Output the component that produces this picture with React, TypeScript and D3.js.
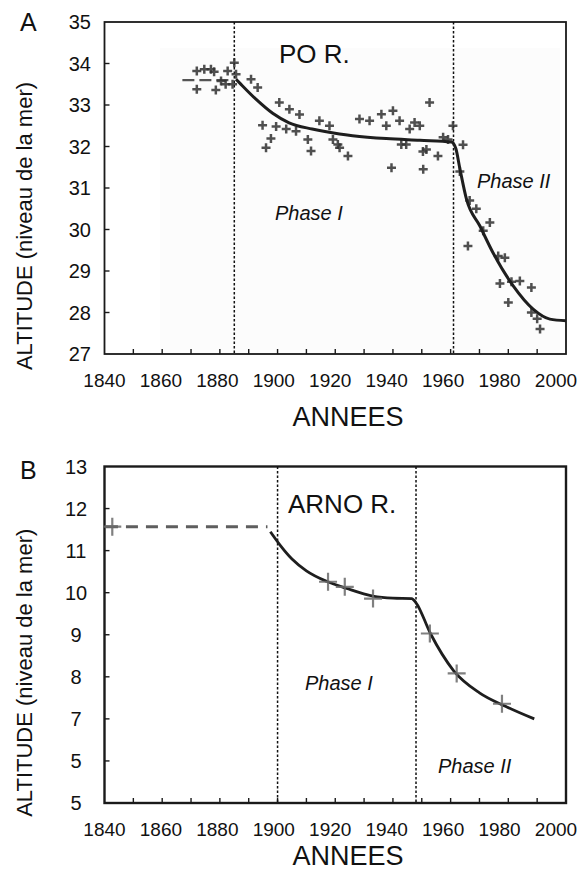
import { useEffect, useRef } from "react";
import * as d3 from "d3";

// axis ticks and labels
const xLabelYears = [1840, 1860, 1880, 1900, 1920, 1940, 1960, 1980, 2000];
const xMinorYears = [1850, 1860, 1870, 1880, 1890, 1900, 1910, 1920, 1930, 1940, 1950, 1960, 1970, 1980, 1990];
const poTicks = [35, 34, 33, 32, 31, 30, 29, 28, 27];
const arnoTicks = [13, 12, 11, 10, 9, 8, 7, 6, 5];
const arnoTickLabels = ["13", "12", "11", "10", "9", "8", "7", "5", "5"];

// phase limits (dotted verticals)
const poPhaseYears = [1885, 1961];
const arnoPhaseYears = [1900, 1948];

// Po river - measured levels
const poObsYear = [
  1872, 1874.6, 1876.9, 1878, 1872, 1878.6, 1880.4, 1882.7, 1882, 1885, 1884.4, 1885.6,
  1890.8, 1893.1, 1900.6, 1904.1, 1894.8, 1899.5, 1903, 1906.4, 1897.7, 1896, 1910.5, 1911.6,
  1914.5, 1918, 1920.9, 1907.6, 1919.2, 1921.5, 1924.4, 1928.4, 1931.9, 1936, 1937.7, 1940,
  1942.3, 1945.8, 1947.5, 1949.3, 1952.7, 1942.9, 1944.6, 1951.6, 1955.6, 1939.5, 1950.5, 1957.4,
  1959.1, 1960.8, 1964.3, 1963.2, 1966.6, 1968.9, 1971.3, 1973.6, 1966, 1976.5, 1978.8, 1977.1,
  1981.1, 1984, 1988, 1980, 1988, 1990, 1991, 1950.4,
];
const poObsAlt = [
  33.82, 33.86, 33.86, 33.8, 33.38, 33.36, 33.58, 33.82, 33.5, 34.02, 33.5, 33.74,
  33.62, 33.42, 33.06, 32.9, 32.51, 32.48, 32.42, 32.37, 32.19, 31.97, 32.17, 31.89,
  32.62, 32.5, 32.05, 32.77, 32.17, 31.97, 31.77, 32.66, 32.62, 32.78, 32.5, 32.86,
  32.62, 32.42, 32.58, 32.5, 33.06, 32.05, 32.05, 31.93, 31.77, 31.49, 31.45, 32.22,
  32.17, 32.5, 32.04, 31.4, 30.7, 30.5, 29.97, 30.17, 29.6, 29.36, 29.32, 28.7,
  28.74, 28.76, 28.6, 28.24, 28.0, 27.85, 27.6, 31.88,
];
// Po river - early level (dashed) and fitted trend
const poEarlyYear = [1867, 1884];
const poEarlyAlt = [33.6, 33.6];
const poTrendYear = [
  1885.6, 1887, 1892.5, 1898.3, 1904, 1912, 1921.5, 1926, 1937.7, 1949.3, 1960.3, 1961.8,
  1963.2, 1965.5, 1970.1, 1974.7, 1981.7, 1988.6, 1994.4, 2000,
];
const poTrendAlt = [
  33.62, 33.52, 33.14, 32.8, 32.57, 32.42, 32.3, 32.26, 32.19, 32.15, 32.11, 31.95,
  31.47, 30.73, 30.09, 29.44, 28.64, 28.08, 27.84, 27.8,
];

// Arno river - measured levels, early level (dashed) and fitted trend
const arnoObsYear = [1842.7, 1917.5, 1923.3, 1933.1, 1952.8, 1962.1, 1977.8];
const arnoObsAlt = [11.57, 10.26, 10.14, 9.86, 9.03, 8.08, 7.36];
const arnoEarlyYear = [1840.5, 1896.5];
const arnoEarlyAlt = [11.57, 11.57];
const arnoTrendYear = [1897.5, 1901, 1905, 1910, 1917, 1924, 1933, 1940, 1946.5, 1948, 1953, 1961, 1970, 1979, 1989];
const arnoTrendAlt = [11.45, 11.12, 10.8, 10.52, 10.27, 10.1, 9.92, 9.87, 9.86, 9.76, 9.03, 8.15, 7.62, 7.3, 7.0];

const FONT = "'Liberation Sans', Arial, sans-serif";

type Panel = {
  letter: string;
  title: string;
  top: number;
  bottom: number;
  yDomain: [number, number];
  yTicks: number[];
  yTickLabels: string[];
  phases: number[];
};

export default function App() {
  const svgRef = useRef<SVGSVGElement>(null);

  useEffect(() => {
    if (!svgRef.current) return;
    const svg = d3.select(svgRef.current);
    svg.selectAll("*").remove();

    const left = 104.5;
    const right = 566;
    const x = d3.scaleLinear().domain([1840, 2000]).range([left, right]);
    // the printed year labels sit a little tighter than the ticks
    const xLab = d3.scaleLinear().domain([1840, 2000]).range([left, right - 10]);

    const defs = svg.append("defs");
    defs.append("filter").attr("id", "soft")
      .append("feGaussianBlur").attr("stdDeviation", 0.6);

    const plus = (size: number) => `M${-size},0H${size}M0,${-size}V${size}`;

    const drawPanel = (p: Panel) => {
      const y = d3.scaleLinear().domain(p.yDomain).range([p.bottom, p.top]);
      const g = svg.append("g");
      const strong = p.letter === "B";

      // frame
      g.append("rect")
        .attr("x", left).attr("y", p.top)
        .attr("width", right - left).attr("height", p.bottom - p.top)
        .attr("fill", "none")
        .attr("stroke", "#1a1a1a")
        .attr("stroke-width", strong ? 2.4 : 1.8);

      // inner ticks
      g.selectAll("xtick").data(xMinorYears).enter().append("line")
        .attr("x1", d => x(d)).attr("x2", d => x(d))
        .attr("y1", p.bottom).attr("y2", p.bottom - 5)
        .attr("stroke", "#1a1a1a").attr("stroke-width", 1.4);
      g.selectAll("ytick").data(p.yTicks.slice(1, -1)).enter().append("line")
        .attr("x1", left).attr("x2", left + 5)
        .attr("y1", d => y(d)).attr("y2", d => y(d))
        .attr("stroke", "#1a1a1a").attr("stroke-width", 1.4);

      // tick labels
      g.selectAll("xlab").data(xLabelYears).enter().append("text")
        .attr("x", d => xLab(d)).attr("y", p.bottom + 33)
        .attr("text-anchor", "middle")
        .attr("font-family", FONT).attr("font-size", 19).attr("fill", "#111")
        .text(d => String(d));
      g.selectAll("ylab").data(p.yTicks).enter().append("text")
        .attr("x", strong ? 76 : 91).attr("y", d => y(d))
        .attr("dy", "0.36em")
        .attr("text-anchor", strong ? "middle" : "end")
        .attr("font-family", FONT).attr("font-size", 20).attr("fill", "#111")
        .text((_, i) => p.yTickLabels[i]);

      // axis titles
      g.append("text")
        .attr("x", 348).attr("y", p.bottom + (strong ? 62 : 72))
        .attr("text-anchor", "middle")
        .attr("font-family", FONT).attr("font-size", 27).attr("fill", "#111")
        .text("ANNEES");
      const midY = (p.top + p.bottom) / 2 + 38;
      g.append("text")
        .attr("transform", `translate(24,${midY}) rotate(-90)`)
        .attr("text-anchor", "middle").attr("dy", "0.35em")
        .attr("font-family", FONT).attr("font-size", 22).attr("fill", "#111")
        .text("ALTITUDE (niveau de la mer)");

      g.append("text")
        .attr("x", 20).attr("y", p.top + (strong ? 12 : 9))
        .attr("font-family", FONT).attr("font-size", 25).attr("fill", "#111")
        .text(p.letter);

      // phase limits
      g.selectAll("phase").data(p.phases).enter().append("line")
        .attr("x1", d => x(d)).attr("x2", d => x(d))
        .attr("y1", p.top).attr("y2", p.bottom)
        .attr("stroke", "#111").attr("stroke-width", 1.5)
        .attr("stroke-dasharray", "2.5,2");

      return { g, y };
    };

    // ---- panel A : Po
    const pa: Panel = {
      letter: "A", title: "PO R.", top: 22, bottom: 354,
      yDomain: [27, 35], yTicks: poTicks, yTickLabels: poTicks.map(String),
      phases: poPhaseYears,
    };
    // faint scan background behind the data
    svg.append("rect")
      .attr("x", 160).attr("y", 48).attr("width", 400).attr("height", 302)
      .attr("fill", "#fcfcfc");
    const A = drawPanel(pa);

    A.g.append("path")
      .datum(d3.zip(poEarlyYear, poEarlyAlt))
      .attr("fill", "none").attr("stroke", "#555").attr("stroke-width", 2.4)
      .attr("stroke-dasharray", "12,5")
      .attr("d", d3.line<number[]>().x(d => x(d[0])).y(d => A.y(d[1])));

    A.g.selectAll("obs").data(d3.zip(poObsYear, poObsAlt)).enter().append("path")
      .attr("transform", d => `translate(${x(d[0])},${A.y(d[1])})`)
      .attr("d", plus(4.5))
      .attr("stroke", "#333").attr("stroke-width", 2.5)
      .attr("opacity", 0.85)
      .attr("filter", "url(#soft)");

    A.g.append("path")
      .datum(d3.zip(poTrendYear, poTrendAlt))
      .attr("fill", "none").attr("stroke", "#1e1e1e").attr("stroke-width", 3)
      .attr("d", d3.line<number[]>().x(d => x(d[0])).y(d => A.y(d[1])).curve(d3.curveMonotoneX));

    A.g.append("text").attr("x", 279).attr("y", 63)
      .attr("font-family", FONT).attr("font-size", 26).attr("fill", "#111").text(pa.title);
    A.g.append("text").attr("x", 275).attr("y", 220)
      .attr("font-family", FONT).attr("font-size", 20).attr("font-style", "italic")
      .attr("fill", "#111").text("Phase I");
    A.g.append("text").attr("x", 477).attr("y", 188)
      .attr("font-family", FONT).attr("font-size", 20).attr("font-style", "italic")
      .attr("fill", "#111").text("Phase II");

    // ---- panel B : Arno
    const pb: Panel = {
      letter: "B", title: "ARNO R.", top: 466.5, bottom: 803,
      yDomain: [5, 13], yTicks: arnoTicks, yTickLabels: arnoTickLabels,
      phases: arnoPhaseYears,
    };
    const B = drawPanel(pb);

    B.g.append("path")
      .datum(d3.zip(arnoEarlyYear, arnoEarlyAlt))
      .attr("fill", "none").attr("stroke", "#5e5e5e").attr("stroke-width", 3)
      .attr("stroke-dasharray", "12,8")
      .attr("d", d3.line<number[]>().x(d => x(d[0])).y(d => B.y(d[1])));

    B.g.append("path")
      .datum(d3.zip(arnoTrendYear, arnoTrendAlt))
      .attr("fill", "none").attr("stroke", "#1e1e1e").attr("stroke-width", 2.8)
      .attr("d", d3.line<number[]>().x(d => x(d[0])).y(d => B.y(d[1])).curve(d3.curveMonotoneX));

    B.g.selectAll("obs").data(d3.zip(arnoObsYear, arnoObsAlt)).enter().append("path")
      .attr("transform", d => `translate(${x(d[0])},${B.y(d[1])})`)
      .attr("d", plus(9))
      .attr("stroke", "#6a6a6a").attr("stroke-width", 2.2)
      .attr("opacity", 0.85)
      .attr("filter", "url(#soft)");

    B.g.append("text").attr("x", 288).attr("y", 513)
      .attr("font-family", FONT).attr("font-size", 26).attr("fill", "#111").text(pb.title);
    B.g.append("text").attr("x", 305).attr("y", 690)
      .attr("font-family", FONT).attr("font-size", 20).attr("font-style", "italic")
      .attr("fill", "#111").text("Phase I");
    B.g.append("text").attr("x", 438).attr("y", 773)
      .attr("font-family", FONT).attr("font-size", 20).attr("font-style", "italic")
      .attr("fill", "#111").text("Phase II");
  }, []);

  return (
    <svg
      ref={svgRef}
      width={587}
      height={872}
      style={{ position: "absolute", left: 0, top: 0, background: "#fff" }}
    ></svg>
  );
}
